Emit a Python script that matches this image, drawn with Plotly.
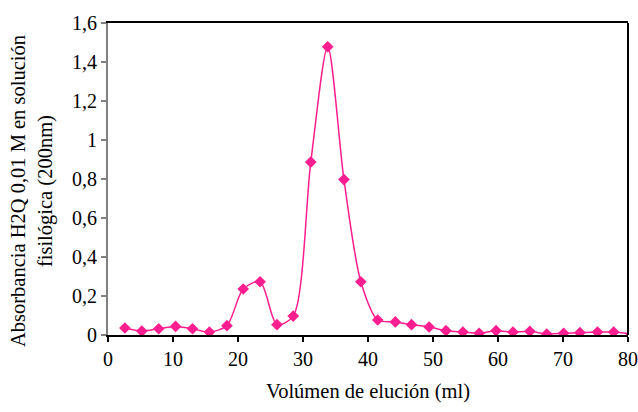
import plotly.graph_objects as go

# Elution volume (ml) and absorbance readings of each fraction
volume_ml = [2.6, 5.2, 7.8, 10.4, 13.0, 15.6, 18.3, 20.8, 23.4, 26.0,
             28.5, 31.2, 33.8, 36.3, 38.9, 41.5, 44.2, 46.7, 49.4, 52.0,
             54.6, 57.1, 59.7, 62.3, 64.9, 67.5, 70.1, 72.6, 75.3, 77.8, 80.5]
absorbance = [0.036, 0.020, 0.032, 0.044, 0.032, 0.015, 0.048, 0.236, 0.273, 0.053,
              0.097, 0.887, 1.478, 0.797, 0.273, 0.077, 0.067, 0.053, 0.041, 0.022,
              0.015, 0.009, 0.022, 0.015, 0.019, 0.005, 0.009, 0.012, 0.015, 0.015, 0.005]

x_ticks = [0, 10, 20, 30, 40, 50, 60, 70, 80]
y_ticks = [0, 0.2, 0.4, 0.6, 0.8, 1.0, 1.2, 1.4, 1.6]
y_tick_text = ["0", "0,2", "0,4", "0,6", "0,8", "1", "1,2", "1,4", "1,6"]

pink = "#FF1E90"
serif = "Times New Roman, Liberation Serif, serif"
tick_font = dict(family=serif, size=20, color="black")
title_font = dict(family=serif, size=20.5, color="black")

fig = go.Figure()
fig.add_trace(go.Scatter(
    x=volume_ml, y=absorbance,
    mode="lines+markers",
    line=dict(color=pink, width=1.5, shape="spline", smoothing=0.8),
    marker=dict(symbol="diamond", size=9, color=pink),
    cliponaxis=True,
    showlegend=False,
))

fig.update_layout(
    width=638, height=412,
    margin=dict(l=108, r=10, t=23, b=77, autoexpand=False),
    paper_bgcolor="white", plot_bgcolor="white",
    font=dict(family=serif, size=20, color="black"),
    xaxis=dict(
        range=[0, 80], tickvals=x_ticks, ticks="outside", ticklen=5,
        tickwidth=1.5, tickcolor="black", tickfont=tick_font, automargin=False,
        showline=True, linecolor="black", linewidth=2, mirror=True,
        showgrid=False, zeroline=False,
    ),
    yaxis=dict(
        range=[0, 1.6], tickvals=y_ticks, ticktext=y_tick_text,
        ticks="outside", ticklen=5, tickwidth=1.5, tickcolor="#808080",
        tickfont=tick_font, automargin=False,
        showline=True, linecolor="#808080", linewidth=2,
        showgrid=False, zeroline=False,
    ),
    shapes=[dict(type="line", xref="paper", yref="paper", x0=1, x1=1, y0=0, y1=1,
                 line=dict(color="black", width=2))],
    annotations=[
        dict(text="Volúmen de elución (ml)", xref="paper", yref="paper",
             x=0.5, y=-0.18, xanchor="center", yanchor="middle",
             showarrow=False, font=title_font),
        dict(text="Absorbancia H2Q 0,01 M en solución<br>fisilógica (200nm)",
             xref="paper", yref="paper", x=-0.145, y=0.46,
             xanchor="center", yanchor="middle", textangle=-90,
             showarrow=False, font=title_font),
    ],
)

fig.write_html("out.html")
